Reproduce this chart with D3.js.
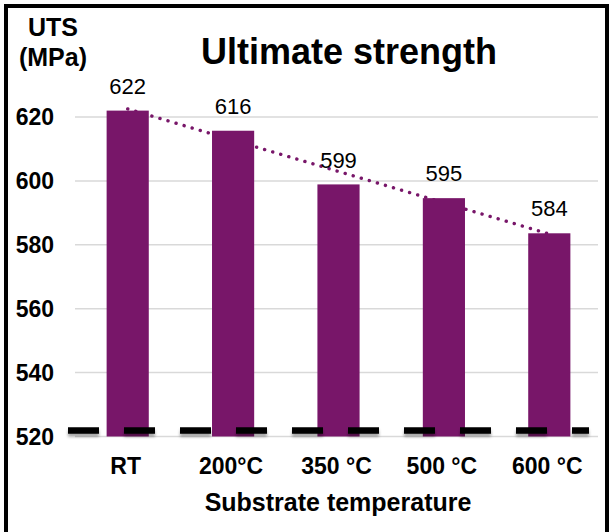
<!DOCTYPE html>
<html>
<head>
<meta charset="utf-8">
<script src="https://cdn.jsdelivr.net/npm/d3@7"></script>
<style>
  html, body { margin: 0; padding: 0; background: #fff; }
  svg { display: block; font-family: "Liberation Sans", Arial, sans-serif; }
</style>
</head>
<body>
<svg id="chart" width="611" height="532"></svg>
<script>
// ---- data ----
const categories = ["RT", "200°C", "350 °C", "500 °C", "600 °C"];
const uts = [622, 615.7, 598.9, 594.6, 583.6];
const yTicks = [520, 540, 560, 580, 600, 620];
const baselineValue = 520;

const svg = d3.select("#chart");
const purple = "#781669";

// frame
svg.append("rect").attr("x", 6).attr("y", 6).attr("width", 601).attr("height", 540)
  .attr("fill", "none").attr("stroke", "#000").attr("stroke-width", 4);

const x = d3.scaleBand().domain(categories).range([75, 602])
  .paddingInner(0.6).paddingOuter(0.3);
const y = d3.scaleLinear().domain([520, 640]).range([436.5, 53.1]);

// gridlines
svg.append("g").selectAll("line").data(yTicks).join("line")
  .attr("x1", 75).attr("x2", 598)
  .attr("y1", d => y(d)).attr("y2", d => y(d))
  .attr("stroke", "#d9d9d9").attr("stroke-width", 1.5);

// y tick labels
svg.append("g").selectAll("text").data(yTicks).join("text")
  .attr("x", 54).attr("y", d => y(d)).attr("dy", "0.35em")
  .attr("text-anchor", "end").attr("font-weight", "bold").attr("font-size", 23)
  .attr("fill", "#000").text(d => d);

// linear trendline (drawn behind bars)
const n = uts.length;
const xs = uts.map((_, i) => i + 1);
const mx = d3.mean(xs), my = d3.mean(uts);
const slope = d3.sum(xs.map((xi, i) => (xi - mx) * (uts[i] - my))) / d3.sum(xs.map(xi => (xi - mx) ** 2));
const icpt = my - slope * mx;
const trend = categories.map((c, i) => [x(c) + x.bandwidth() / 2, y(icpt + slope * (i + 1))]);
svg.append("path").attr("d", d3.line()([trend[0], trend[n - 1]]))
  .attr("fill", "none").attr("stroke", purple).attr("stroke-width", 3.4)
  .attr("stroke-linecap", "round").attr("stroke-dasharray", "0.1 8.3");

// bars
svg.append("g").selectAll("rect").data(uts).join("rect")
  .attr("x", (d, i) => x(categories[i]))
  .attr("width", x.bandwidth())
  .attr("y", d => y(d))
  .attr("height", d => y(baselineValue) - y(d))
  .attr("fill", purple);

// value labels
svg.append("g").selectAll("text").data(uts).join("text")
  .attr("x", (d, i) => x(categories[i]) + x.bandwidth() / 2)
  .attr("y", d => y(d) - 16.8)
  .attr("text-anchor", "middle").attr("font-size", 22).attr("fill", "#000")
  .text(d => d3.format(".0f")(d));

// dashed black line with shadow
const defs = svg.append("defs");
const f = defs.append("filter").attr("id", "sh").attr("filterUnits", "userSpaceOnUse")
  .attr("x", 50).attr("y", 415).attr("width", 560).attr("height", 40);
f.append("feDropShadow").attr("dx", 0).attr("dy", 3).attr("stdDeviation", 1.8)
  .attr("flood-color", "#000").attr("flood-opacity", 0.35);
svg.append("line").attr("x1", 68).attr("x2", 589)
  .attr("y1", 430.5).attr("y2", 430.5)
  .attr("stroke", "#000").attr("stroke-width", 6.5)
  .attr("stroke-dasharray", "31 25").attr("filter", "url(#sh)");

// category labels
svg.append("g").selectAll("text").data(categories).join("text")
  .attr("x", d => x(d) + x.bandwidth() / 2 - 2).attr("y", 474)
  .attr("text-anchor", "middle").attr("font-weight", "bold").attr("font-size", 23)
  .attr("fill", "#000").text(d => d);

// axis title
svg.append("text").attr("x", 338).attr("y", 511).attr("text-anchor", "middle")
  .attr("font-weight", "bold").attr("font-size", 25).text("Substrate temperature");

// y axis title
svg.append("text").attr("x", 53).attr("y", 36).attr("text-anchor", "middle")
  .attr("font-weight", "bold").attr("font-size", 25).text("UTS");
svg.append("text").attr("x", 53).attr("y", 66).attr("text-anchor", "middle")
  .attr("font-weight", "bold").attr("font-size", 25).text("(MPa)");

// chart title
svg.append("text").attr("x", 349).attr("y", 64).attr("text-anchor", "middle")
  .attr("font-weight", "bold").attr("font-size", 36).text("Ultimate strength");
</script>
</body>
</html>
